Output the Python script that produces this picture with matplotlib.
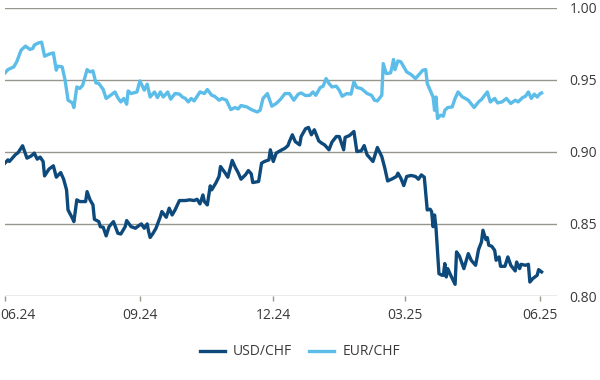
import numpy as np
import pandas as pd
import matplotlib
matplotlib.use('Agg')
import matplotlib.pyplot as plt
import matplotlib.transforms as mtransforms

# Days after 01.06.2024 and the exchange rate
usd_days = [0, 2, 3, 5, 7, 9, 12, 15, 18, 20, 22, 24, 26, 27, 30, 33, 35, 38, 40, 42,
            43, 46, 47, 49, 51, 55, 56, 58, 60, 61, 64, 65, 67, 69, 71, 74, 77, 79, 82, 83,
            86, 89, 91, 93, 95, 97, 98, 99, 101, 103, 106, 107, 110, 112, 114, 116, 119, 123, 126, 129,
            131, 133, 135, 136, 138, 140, 141, 144, 146, 147, 150, 152, 155, 157, 159, 161, 164, 166, 168, 169,
            173, 175, 177, 180, 181, 183, 185, 188, 191, 193, 194, 196, 198, 201, 202, 205, 207, 209, 211, 214,
            216, 218, 221, 223, 226, 228, 231, 232, 235, 238, 240, 243, 245, 247, 251, 254, 257, 259, 261, 264,
            267, 268, 270, 272, 274, 277, 280, 282, 284, 286, 288, 290, 291, 292, 293, 294, 296, 298, 299, 300,
            301, 302, 304, 307, 308, 310, 313, 316, 318, 321, 323, 325, 326, 328, 329, 330, 332, 334, 335, 337,
            338, 341, 343, 345, 348, 349, 351, 352, 355, 357, 358, 360, 363, 364, 366]
usd_chf = [0.8922, 0.8944, 0.8933, 0.8956, 0.8979, 0.8995, 0.9042, 0.8956, 0.8972, 0.8991,
           0.8949, 0.8963, 0.8933, 0.8833, 0.8880, 0.8903, 0.8824, 0.8856, 0.8810, 0.8736,
           0.8597, 0.8539, 0.8516, 0.8667, 0.8655, 0.8655, 0.8724, 0.8667, 0.8632, 0.8532,
           0.8516, 0.8481, 0.8477, 0.8417, 0.8481, 0.8516, 0.8435, 0.8430, 0.8481, 0.8523,
           0.8481, 0.8470, 0.8486, 0.8500, 0.8470, 0.8500, 0.8446, 0.8406, 0.8435, 0.8470,
           0.8551, 0.8586, 0.8546, 0.8609, 0.8562, 0.8597, 0.8662, 0.8662, 0.8667, 0.8662,
           0.8671, 0.8639, 0.8701, 0.8655, 0.8632, 0.8764, 0.8736, 0.8787, 0.8829, 0.8898,
           0.8856, 0.8824, 0.8940, 0.8894, 0.8856, 0.8810, 0.8840, 0.8870, 0.8847, 0.8787,
           0.8794, 0.8921, 0.8933, 0.8944, 0.9014, 0.8933, 0.8991, 0.9009, 0.9025, 0.9043,
           0.9071, 0.9118, 0.9071, 0.9048, 0.9106, 0.9160, 0.9169, 0.9118, 0.9153, 0.9076,
           0.9060, 0.9048, 0.9014, 0.9067, 0.9106, 0.9106, 0.9014, 0.9100, 0.9113, 0.9141,
           0.9002, 0.9007, 0.9043, 0.8979, 0.8933, 0.9030, 0.8967, 0.8890, 0.8798, 0.8812,
           0.8829, 0.8852, 0.8817, 0.8766, 0.8829, 0.8836, 0.8829, 0.8810, 0.8840, 0.8824,
           0.8597, 0.8602, 0.8585, 0.8481, 0.8562, 0.8470, 0.8155, 0.8144, 0.8144, 0.8225,
           0.8132, 0.8190, 0.8144, 0.8081, 0.8306, 0.8276, 0.8190, 0.8294, 0.8248, 0.8213,
           0.8322, 0.8375, 0.8456, 0.8391, 0.8405, 0.8352, 0.8345, 0.8317, 0.8248, 0.8271,
           0.8206, 0.8206, 0.8271, 0.8213, 0.8174, 0.8236, 0.8190, 0.8220, 0.8213, 0.8220,
           0.8097, 0.8121, 0.8144, 0.8183, 0.8167]

eur_days = [0, 2, 6, 8, 11, 14, 17, 19, 20, 23, 25, 27, 30, 33, 35, 36, 39, 41, 43, 46,
            47, 49, 51, 53, 56, 58, 60, 62, 64, 67, 69, 72, 75, 77, 79, 81, 83, 84, 86, 90,
            92, 95, 97, 99, 102, 104, 106, 108, 111, 113, 116, 119, 121, 123, 125, 127, 129, 133, 136, 138,
            141, 143, 146, 148, 151, 154, 157, 159, 161, 165, 168, 172, 174, 176, 179, 182, 185, 188, 191, 194,
            197, 200, 202, 205, 208, 210, 212, 215, 217, 219, 221, 223, 226, 228, 230, 233, 236, 238, 240, 243,
            247, 250, 252, 254, 257, 258, 260, 263, 264, 265, 266, 268, 270, 272, 274, 277, 280, 283, 285, 287,
            288, 290, 292, 293, 294, 295, 297, 299, 300, 302, 305, 307, 309, 312, 314, 316, 320, 323, 325, 329,
            331, 334, 336, 339, 342, 345, 348, 350, 353, 355, 357, 359, 361, 363, 365, 366]
eur_chf = [0.9547, 0.9570, 0.9589, 0.9624, 0.9705, 0.9733, 0.9710, 0.9717, 0.9740, 0.9756,
           0.9760, 0.9663, 0.9677, 0.9686, 0.9566, 0.9594, 0.9589, 0.9497, 0.9358, 0.9339,
           0.9307, 0.9450, 0.9439, 0.9462, 0.9570, 0.9554, 0.9561, 0.9478, 0.9474, 0.9432,
           0.9370, 0.9392, 0.9415, 0.9374, 0.9346, 0.9370, 0.9330, 0.9422, 0.9404, 0.9415,
           0.9492, 0.9427, 0.9469, 0.9380, 0.9415, 0.9376, 0.9415, 0.9380, 0.9415, 0.9365,
           0.9404, 0.9400, 0.9380, 0.9370, 0.9346, 0.9370, 0.9353, 0.9415, 0.9404, 0.9432,
           0.9392, 0.9385, 0.9358, 0.9370, 0.9358, 0.9293, 0.9307, 0.9297, 0.9321, 0.9311,
           0.9293, 0.9276, 0.9288, 0.9370, 0.9404, 0.9316, 0.9335, 0.9365, 0.9404, 0.9404,
           0.9358, 0.9400, 0.9408, 0.9390, 0.9392, 0.9415, 0.9392, 0.9446, 0.9455, 0.9508,
           0.9474, 0.9450, 0.9455, 0.9427, 0.9385, 0.9404, 0.9400, 0.9485, 0.9446, 0.9439,
           0.9404, 0.9392, 0.9358, 0.9353, 0.9392, 0.9612, 0.9543, 0.9547, 0.9589, 0.9640,
           0.9570, 0.9630, 0.9624, 0.9589, 0.9554, 0.9536, 0.9508, 0.9543, 0.9566, 0.9570,
           0.9474, 0.9427, 0.9380, 0.9288, 0.9380, 0.9231, 0.9254, 0.9247, 0.9288, 0.9307,
           0.9311, 0.9370, 0.9415, 0.9380, 0.9370, 0.9358, 0.9307, 0.9346, 0.9363, 0.9415,
           0.9346, 0.9370, 0.9339, 0.9346, 0.9370, 0.9335, 0.9358, 0.9346, 0.9376, 0.9385,
           0.9415, 0.9370, 0.9400, 0.9380, 0.9404, 0.9408]

tick_dates = ['2024-06-01', '2024-09-01', '2024-12-01', '2025-03-01', '2025-06-01']
tick_labels = ['06.24', '09.24', '12.24', '03.25', '06.25']
y_ticks = [0.80, 0.85, 0.90, 0.95, 1.00]

start = pd.Timestamp('2024-06-01')
usd_dates = start + pd.to_timedelta(usd_days, unit='D')
eur_dates = start + pd.to_timedelta(eur_days, unit='D')

plt.rcParams['font.family'] = ['Open Sans', 'DejaVu Sans']

fig = plt.figure(figsize=(6, 3.8), dpi=100)
ax = fig.add_axes([0.0083, 0.221, 0.92, 0.759])

grid_col = '#97958c'
text_col = '#3a3a3a'

ax.plot(usd_dates, usd_chf, color='#0d4a7b', lw=2.4, label='USD/CHF', zorder=3)
ax.plot(eur_dates, eur_chf, color='#5cbde9', lw=2.4, label='EUR/CHF', zorder=3)

ax.set_ylim(0.80, 1.00)
ax.set_xlim(start, start + pd.Timedelta(days=376.5))
ax.set_yticks(y_ticks)
ax.set_yticklabels(['%.2f' % v for v in y_ticks])
ax.yaxis.tick_right()
ax.yaxis.grid(True, color=grid_col, lw=1.0)
ax.set_axisbelow(True)
ax.tick_params(axis='y', length=0, pad=9, labelsize=10, labelcolor=text_col)

ax.set_xticks(pd.to_datetime(tick_dates))
ax.set_xticklabels(tick_labels)
ax.tick_params(axis='x', length=3.5, width=1.0, color=grid_col, pad=5,
               labelsize=10, labelcolor=text_col)

# first label sits at the left edge of the picture
first = ax.get_xticklabels()[0]
first.set_horizontalalignment('left')
first.set_transform(first.get_transform() +
                    mtransforms.ScaledTranslation(-5 / 100, 0, fig.dpi_scale_trans))

for side in ['top', 'left', 'right', 'bottom']:
    ax.spines[side].set_visible(False)

fig.legend(loc='center', bbox_to_anchor=(0.5, 0.074), ncol=2, frameon=False,
           fontsize=10, handlelength=1.8, handletextpad=0.6, columnspacing=1.2,
           labelcolor=text_col)

plt.savefig('out.png', dpi=100)
plt.close(fig)
